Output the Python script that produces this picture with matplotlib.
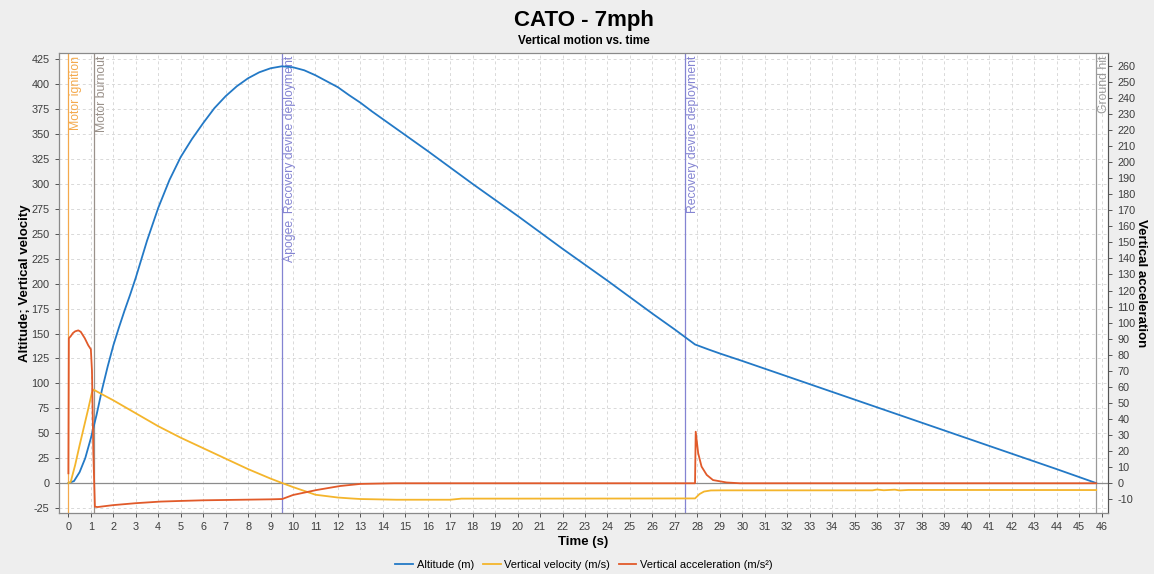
import matplotlib.pyplot as plt
import matplotlib.ticker as mticker
import matplotlib.transforms as mtransforms

plt.rcParams['font.family'] = ['Liberation Sans', 'DejaVu Sans']
plt.rcParams['axes.unicode_minus'] = False

# altitude (m)
alt_t = [0.0, 0.25, 0.5, 0.75, 1.0, 1.25, 1.5, 1.75, 2.0, 2.25, 2.5, 2.75, 3.0, 3.5, 4.0,
         4.5, 5.0, 5.5, 6.0, 6.5, 7.0, 7.5, 8.0, 8.5, 9.0, 9.5, 10.0, 10.5, 11.0, 11.5,
         12.0, 12.5, 13.0, 13.5, 14.0, 15.0, 16.0, 17.0, 18.0, 19.0, 20.0, 21.0, 22.0,
         23.0, 24.0, 25.0, 26.0, 27.0, 27.9, 28.5, 29.0, 30.0, 32.0, 34.0, 36.0, 38.0,
         40.0, 42.0, 44.0, 45.76]
alt_v = [0, 2, 11, 25, 45, 68, 94, 117, 138, 156, 173, 189, 206, 243, 276,
         304, 327, 345, 361, 376, 388, 398, 406, 412, 416, 418, 417, 414, 409, 403,
         397, 389, 381.5, 373, 365, 349, 333, 316.5, 300, 284, 268, 251.5, 235,
         219, 203, 186.5, 170, 154, 139, 134, 130, 122.5, 107, 91.5, 76, 60.5,
         45, 29.5, 14, 0]

# vertical velocity (m/s)
vel_t = [0.0, 0.1, 0.3, 0.5, 0.7, 0.9, 1.05, 1.12, 1.5, 2.0, 3.0, 4.0, 5.0, 6.0, 7.0,
         8.0, 9.0, 9.52, 10.0, 11.0, 12.0, 12.5, 13.0, 14.6, 17.0, 17.5, 20.0, 25.0,
         27.9, 28.1, 28.3, 28.6, 29.0, 35.8, 36.0, 36.3, 36.8, 37.0, 37.4, 45.76]
vel_v = [0, 1, 18, 38, 57, 76, 91, 93.7, 89, 83, 70, 57, 45.5, 35, 24.5,
         14, 4.5, 0, -4, -11.7, -14.5, -15.3, -16, -16.7, -16.7, -15.6, -15.6, -15.5,
         -15.4, -11, -8.5, -7.4, -7.3, -7.3, -6.5, -7.2, -6.6, -7.4, -6.9, -7.0]

# vertical acceleration (m/s²)
acc_t = [0.0, 0.02, 0.1, 0.2, 0.3, 0.44, 0.55, 0.73, 0.88, 1.0, 1.05, 1.11, 1.18,
         1.3, 2.0, 3.0, 4.1, 5.0, 6.0, 7.0, 8.0, 9.0, 9.52, 10.0, 11.05, 12.1, 13.0,
         14.5, 27.9, 27.93, 28.04, 28.19, 28.42, 28.7, 29.3, 29.9, 45.76]
acc_v = [6.2, 90.3, 91.5, 93.5, 94.6, 95.2, 94.3, 90.3, 86, 83.4, 70, 19, -14.6,
         -14.8, -13.6, -12.4, -11.4, -11, -10.6, -10.4, -10.2, -10, -9.8, -7.3, -4.2, -1.7, -0.4,
         0, 0, 32.1, 18.7, 10.4, 5.2, 2, 0.5, 0, 0]

# flight events
event_t = [0.0, 1.16, 9.52, 27.44, 45.76]
event_names = ['Motor ignition', 'Motor burnout', 'Apogee, Recovery device deployment',
               'Recovery device deployment', 'Ground hit']
event_colors = ['#f4a94c', '#9a918a', '#8484d2', '#8484d2', '#9a9a9a']

c_alt = '#2379c6'
c_vel = '#f4b52c'
c_acc = '#e15a2a'

fig = plt.figure(figsize=(11.54, 5.74), dpi=100, facecolor='#eeeeee')
ax = fig.add_axes([0.0509, 0.1063, 0.9095, 0.8008])
ax.set_facecolor('white')
ax2 = ax.twinx()

ax.set_xlim(-0.43, 46.3)
ax.set_ylim(-30, 431)
ax2.set_ylim(-18.5, 267.7)

ax.xaxis.set_major_locator(mticker.MultipleLocator(1))
ax.yaxis.set_major_locator(mticker.MultipleLocator(25))
ax2.yaxis.set_major_locator(mticker.MultipleLocator(10))

ax.grid(True, color='#d9d9d9', linestyle=(0, (3, 3)), linewidth=0.7)
ax.set_axisbelow(True)
ax.axhline(0, color='#8c8c8c', linewidth=0.9, zorder=1)

for a in (ax, ax2):
    a.tick_params(labelsize=7.8, colors='#3c3c3c', length=3, width=0.6)
    for s in a.spines.values():
        s.set_color('#8a8a8a')
        s.set_linewidth(0.8)
ax.spines['left'].set_color('#555555')
ax.spines['bottom'].set_color('#555555')
ax2.spines['right'].set_color('#555555')

# event markers
trans = mtransforms.blended_transform_factory(ax.transData, ax.transAxes)
offset = mtransforms.ScaledTranslation(2 / 100, 0, fig.dpi_scale_trans)
for t, name, col in zip(event_t, event_names, event_colors):
    ax.axvline(t, color=col, linewidth=0.9, zorder=2)
    ax.text(t, 0.995, name, rotation=90, ha='left', va='top', color=col,
            fontsize=8.8, transform=trans + offset)

l1, = ax.plot(alt_t, alt_v, color=c_alt, linewidth=1.3, zorder=3)
l2, = ax.plot(vel_t, vel_v, color=c_vel, linewidth=1.3, zorder=3)
l3, = ax2.plot(acc_t, acc_v, color=c_acc, linewidth=1.3)

ax.set_xlabel('Time (s)', fontsize=9.5, fontweight='bold', labelpad=3)
ax.set_ylabel('Altitude; Vertical velocity', fontsize=9.5, fontweight='bold',
              va='center')
ax.yaxis.set_label_coords(-0.032, 0.5)
ax2.set_ylabel('Vertical acceleration', fontsize=9.5, fontweight='bold',
               rotation=-90, va='center')
ax2.yaxis.set_label_coords(1.031, 0.5)

fig.text(0.506, 0.965, 'CATO - 7mph', ha='center', va='center',
         fontsize=16, fontweight='bold')
fig.text(0.506, 0.929, 'Vertical motion vs. time', ha='center', va='center',
         fontsize=8.5, fontweight='bold')

fig.legend([l1, l2, l3],
           ['Altitude (m)', 'Vertical velocity (m/s)', 'Vertical acceleration (m/s²)'],
           loc='lower center', bbox_to_anchor=(0.506, -0.011), ncol=3, frameon=False,
           fontsize=8, handlelength=1.6, handletextpad=0.3, columnspacing=0.8)

fig.savefig('out.png', dpi=100, facecolor=fig.get_facecolor())
